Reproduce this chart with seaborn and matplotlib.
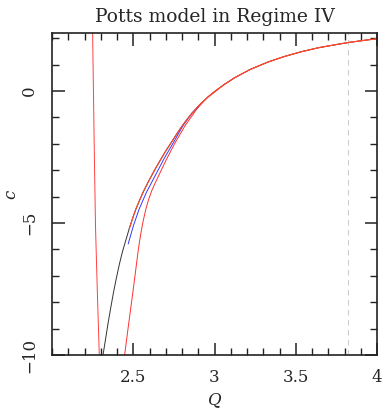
import matplotlib
matplotlib.use("Agg")
import matplotlib.pyplot as plt
import seaborn as sns
from matplotlib.ticker import MultipleLocator, FixedLocator

sns.set_style("ticks")
plt.rcParams["font.family"] = ["DejaVu Serif"]

# main (upper) curve, shared by the black and the upper red branch
main_q = [2.475, 2.50, 2.517, 2.54, 2.56, 2.59, 2.615, 2.64, 2.67, 2.70, 2.736, 2.77,
          2.80, 2.83, 2.86, 2.89, 2.92, 2.96, 3.00, 3.06, 3.125, 3.22, 3.329, 3.43,
          3.534, 3.638, 3.738, 3.824, 3.943, 4.00]
main_c = [-5.22, -4.75, -4.46, -4.12, -3.84, -3.47, -3.18, -2.90, -2.58, -2.27, -1.93, -1.60,
          -1.33, -1.08, -0.85, -0.64, -0.45, -0.22, -0.02, 0.25, 0.51, 0.82, 1.10, 1.31,
          1.49, 1.64, 1.75, 1.84, 1.94, 1.98]

# black branch rising from the bottom
black_q = [2.314, 2.33, 2.345, 2.362, 2.379, 2.397, 2.415, 2.433, 2.451]
black_c = [-10.0, -9.38, -8.80, -8.19, -7.61, -7.06, -6.55, -6.10, -5.72]

# blue branch
blue_q = [2.469, 2.501, 2.537, 2.581, 2.637, 2.688, 2.749, 2.806, 2.862, 2.90]
blue_c = [-5.79, -5.10, -4.46, -3.84, -3.18, -2.58, -1.93, -1.31, -0.83, -0.60]

# right red branch
red2_q = [2.447, 2.47, 2.498, 2.532, 2.545, 2.56, 2.578, 2.595, 2.614, 2.635, 2.656, 2.70,
          2.758, 2.82, 2.89, 2.95, 3.00, 3.06]
red2_c = [-10.0, -8.90, -7.61, -5.97, -5.45, -4.95, -4.46, -4.10, -3.77, -3.48, -3.21, -2.64,
          -1.95, -1.30, -0.69, -0.28, -0.04, 0.25]

# left, nearly vertical red branch
red1_q = [2.250, 2.255, 2.262, 2.268, 2.279, 2.291]
red1_c = [2.2, 0.0, -3.0, -5.2, -7.6, -10.0]

q_dashed = 3.824

fig = plt.figure(figsize=(3.83, 4.11), dpi=100)
ax = fig.add_axes([52 / 383, 1 - 355 / 411, 325 / 383, 322 / 411])

ax.axvline(q_dashed, color="#cccccc", lw=0.8, ls=(0, (5, 4)), zorder=1)

sns.lineplot(x=black_q + main_q, y=black_c + main_c, sort=False,
             estimator=None, color="#333333", lw=0.7, ax=ax)
sns.lineplot(x=red2_q + main_q[20:], y=red2_c + main_c[20:], sort=False,
             estimator=None, color="#ff3030", lw=0.7, ax=ax)
sns.lineplot(x=blue_q, y=blue_c, sort=False, estimator=None,
             color="#3838ff", lw=0.7, ax=ax)
sns.lineplot(x=main_q, y=main_c, sort=False, estimator=None,
             color="#ff4a2a", lw=0.8, ax=ax)
sns.lineplot(x=red1_q, y=red1_c, sort=False, estimator=None,
             color="#ff4040", lw=0.7, ax=ax)

ax.set_xlim(2.0, 4.0)
ax.set_ylim(-10, 2.2)

ax.xaxis.set_major_locator(FixedLocator([2.5, 3.0, 3.5, 4.0]))
ax.set_xticklabels(["2.5", "3", "3.5", "4"])
ax.xaxis.set_minor_locator(MultipleLocator(0.1))
ax.yaxis.set_major_locator(FixedLocator([-10, -5, 0]))
ax.set_yticklabels(["\u221210", "\u22125", "0"], rotation=90, va="center")
ax.yaxis.set_minor_locator(MultipleLocator(1))

ax.tick_params(which="both", direction="in", top=True, right=True,
               color="#222222", labelsize=12, pad=10)
ax.tick_params(which="major", length=9, width=1.1)
ax.tick_params(which="minor", length=5, width=1.0)
for s in ax.spines.values():
    s.set_color("#222222")
    s.set_linewidth(1.2)

ax.set_xlabel("Q", fontsize=12, fontstyle="italic", labelpad=4)
ax.set_ylabel("c", fontsize=12, fontstyle="italic", labelpad=1)
ax.set_title("Potts model in Regime IV", fontsize=13.5, pad=8)

fig.savefig("out.png", dpi=100)
